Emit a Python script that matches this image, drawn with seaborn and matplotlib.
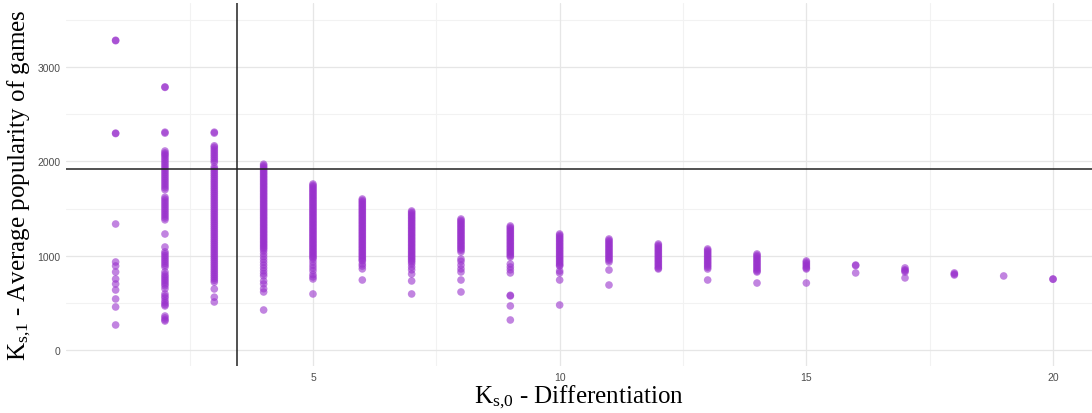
import numpy as np
import pandas as pd
import matplotlib
matplotlib.use("Agg")
import matplotlib.pyplot as plt
import seaborn as sns

# ---- data ----
pop_k1 = [3285, 3280, 2300, 2295, 1336, 933, 891, 827, 753, 700, 636, 541, 456, 265]
pop_k2 = [2790, 2785, 2310, 2300, 2110, 2090, 2075, 2060, 2040, 2020, 2000, 1980, 1960,
          1940, 1920, 1900, 1880, 1860, 1840, 1820, 1800, 1780, 1760, 1740, 1720, 1700,
          1620, 1600, 1580, 1560, 1540, 1520, 1500, 1480, 1460, 1440, 1420, 1400, 1380,
          1230, 1092, 1040, 1020, 1000, 980, 960, 940, 920, 900, 880, 827, 800, 780, 760,
          740, 720, 700, 680, 650, 594, 570, 550, 520, 500, 480, 467, 360, 340, 320, 307]
pop_k3 = [2310, 2300, 2165, 2150, 2130, 2110, 2090, 2070, 2050, 2030, 2010, 1990,
          1940, 1920, 1900, 1880, 1860, 1840, 1820, 1800, 1780, 1760, 1740, 1720, 1700,
          1680, 1660, 1640, 1620, 1600, 1580, 1560, 1540, 1520, 1500, 1480, 1460, 1440,
          1420, 1400, 1380, 1360, 1340, 1320, 1300, 1280, 1260, 1240, 1220, 1200, 1180,
          1160, 1140, 1120, 1100, 1080, 1060, 1040, 1020, 1000, 980, 960, 940, 920, 900,
          880, 860, 840, 820, 800, 780, 760, 740, 720, 647, 560, 509]
pop_k4 = [1970, 1955, 1940, 1925, 1910, 1895, 1880, 1865, 1850, 1835, 1820, 1805, 1790,
          1775, 1760, 1745, 1730, 1715, 1700, 1685, 1670, 1655, 1640, 1625, 1610, 1595,
          1580, 1565, 1550, 1535, 1520, 1505, 1490, 1475, 1460, 1445, 1430, 1415, 1400,
          1385, 1370, 1355, 1340, 1325, 1310, 1295, 1280, 1265, 1250, 1235, 1220, 1205,
          1190, 1175, 1160, 1145, 1130, 1115, 1100, 1085, 1070, 1050, 1020, 990, 960,
          930, 900, 870, 840, 810, 785, 732, 700, 650, 615, 424]
pop_k5 = [1760, 1745, 1730, 1715, 1700, 1685, 1670, 1655, 1640, 1625, 1610, 1595, 1580,
          1565, 1550, 1535, 1520, 1505, 1490, 1475, 1460, 1445, 1430, 1415, 1400, 1385,
          1370, 1355, 1340, 1325, 1310, 1295, 1280, 1265, 1250, 1235, 1220, 1205, 1190,
          1175, 1160, 1145, 1130, 1115, 1100, 1085, 1070, 1055, 1040, 1025, 1010, 995,
          980, 965, 933, 900, 870, 840, 800, 775, 753, 594]
pop_k6 = [1601, 1586, 1571, 1556, 1541, 1526, 1511, 1496, 1481, 1466, 1451, 1436, 1421,
          1406, 1391, 1376, 1361, 1346, 1331, 1316, 1301, 1286, 1271, 1256, 1241, 1226,
          1211, 1196, 1181, 1166, 1151, 1136, 1121, 1106, 1091, 1076, 1061, 1046, 1031,
          1016, 1001, 986, 971, 956, 944, 912, 890, 860, 742]
pop_k7 = [1474, 1459, 1444, 1429, 1414, 1399, 1384, 1369, 1354, 1339, 1324, 1309, 1294,
          1279, 1264, 1249, 1234, 1219, 1204, 1189, 1174, 1159, 1144, 1129, 1114, 1099,
          1084, 1069, 1054, 1039, 1024, 1009, 994, 979, 964, 949, 933, 912, 880, 850,
          806, 732, 594]
pop_k8 = [1389, 1374, 1359, 1344, 1329, 1314, 1299, 1284, 1269, 1254, 1239, 1224, 1209,
          1194, 1179, 1164, 1149, 1134, 1119, 1104, 1089, 1074, 1059, 1040, 965, 940,
          900, 860, 827, 742, 615]
pop_k9 = [1315, 1300, 1285, 1270, 1255, 1240, 1225, 1210, 1195, 1180, 1165, 1150, 1135,
          1120, 1105, 1090, 1075, 1060, 1045, 1030, 1015, 1000, 986, 912, 880, 850, 817,
          580, 573, 467, 318]
pop_k10 = [1230, 1215, 1200, 1185, 1170, 1155, 1140, 1125, 1110, 1095, 1080, 1065, 1050,
           1035, 1020, 1005, 990, 975, 960, 945, 930, 915, 900, 891, 838, 817, 742, 477]
pop_k11 = [1177, 1162, 1147, 1132, 1117, 1102, 1087, 1072, 1057, 1042, 1027, 1012, 997,
           982, 967, 952, 933, 848, 689]
pop_k12 = [1124, 1109, 1094, 1079, 1064, 1049, 1034, 1019, 1004, 989, 974, 959, 944, 929,
           914, 899, 884, 869, 859]
pop_k13 = [1071, 1056, 1041, 1026, 1011, 996, 981, 966, 951, 936, 921, 906, 891, 876,
           859, 742]
pop_k14 = [1018, 1003, 988, 973, 958, 943, 928, 913, 898, 883, 868, 853, 838, 827, 710]
pop_k15 = [944, 929, 914, 899, 884, 870, 859, 710]
pop_k16 = [901, 895, 817]
pop_k17 = [870, 850, 840, 827, 764]
pop_k18 = [817, 805, 795]
pop_k19 = [785]
pop_k20 = [753, 750]

columns = [pop_k1, pop_k2, pop_k3, pop_k4, pop_k5, pop_k6, pop_k7, pop_k8, pop_k9, pop_k10,
           pop_k11, pop_k12, pop_k13, pop_k14, pop_k15, pop_k16, pop_k17, pop_k18, pop_k19,
           pop_k20]
differentiation_levels = list(range(1, 21))

hline_value = 1919
vline_value = 3.45

x_ticks = [5, 10, 15, 20]
y_ticks = [0, 1000, 2000, 3000]

rows = []
for k, vals in zip(differentiation_levels, columns):
    for v in vals:
        rows.append({"ks0": k, "ks1": v})
df = pd.DataFrame(rows)

# ---- style ----
sns.set_theme(style="white")
plt.rcParams["mathtext.fontset"] = "custom"
plt.rcParams["mathtext.rm"] = "Liberation Serif"
plt.rcParams["mathtext.it"] = "Liberation Serif:italic"

fig = plt.figure(figsize=(10.92, 4.14), dpi=100)
ax = fig.add_axes([66 / 1092, 47 / 414, 1 - 66 / 1092, (367 - 4) / 414])

# grid
for xm in [2.5, 7.5, 12.5, 17.5]:
    ax.axvline(xm, color="#f2f2f2", lw=0.8, zorder=0)
for ym in [500, 1500, 2500, 3500]:
    ax.axhline(ym, color="#f2f2f2", lw=0.8, zorder=0)
for xm in x_ticks:
    ax.axvline(xm, color="#e6e6e6", lw=0.9, zorder=0)
for ym in y_ticks:
    ax.axhline(ym, color="#e6e6e6", lw=0.9, zorder=0)

sns.scatterplot(data=df, x="ks0", y="ks1", ax=ax, color="#9932CC", alpha=0.6,
                s=30, edgecolor="none", linewidth=0, zorder=3, legend=False)

ax.axhline(hline_value, color="#222222", lw=1.1, zorder=4)
ax.axvline(vline_value, color="#222222", lw=1.1, zorder=4)

ax.set_xlim(-0.006, 20.79)
ax.set_ylim(-170, 3680)
ax.set_xticks(x_ticks)
ax.set_yticks(y_ticks)
ax.tick_params(axis="both", length=0, labelsize=7.5, labelcolor="#4d4d4d", pad=4)
for lbl in ax.get_xticklabels() + ax.get_yticklabels():
    lbl.set_fontfamily("Liberation Sans")
for sp in ax.spines.values():
    sp.set_visible(False)

ax.set_xlabel(r"$\mathrm{K}_{\mathrm{s{,}0}}$ - Differentiation", fontsize=18,
              fontfamily="Liberation Serif", color="black", labelpad=1)
ax.set_ylabel(r"$\mathrm{K}_{\mathrm{s{,}1}}$ - Average popularity of games", fontsize=18,
              fontfamily="Liberation Serif", color="black", labelpad=3)

fig.savefig("out.png", dpi=100)
